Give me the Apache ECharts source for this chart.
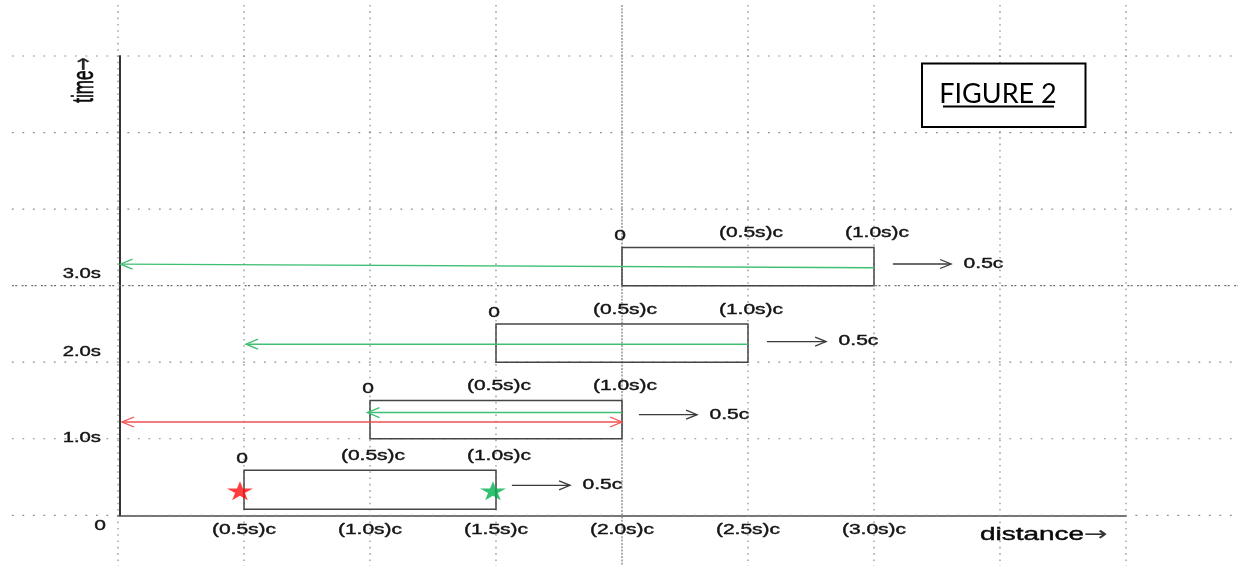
<!DOCTYPE html>
<html>
<head>
<meta charset="utf-8">
<script src="https://cdn.jsdelivr.net/npm/echarts@6/dist/echarts.min.js"></script>
<style>
  html, body { margin: 0; padding: 0; background: #fff; }
  #chart { width: 1238px; height: 566px; }
</style>
</head>
<body>
<div id="chart"></div>
<script>
// ---------- data ----------
const xTicks = [0, 0.5, 1, 1.5, 2, 2.5, 3, 3.5, 4];
const xTickLabels = ['', '(0.5s)c', '(1.0s)c', '(1.5s)c', '(2.0s)c', '(2.5s)c', '(3.0s)c', '', ''];
const yTicks = [0, 1, 2, 3, 4, 5, 6];
const yTickLabels = ['', '1.0s', '2.0s', '3.0s', '', '', ''];
const originLabel = '0';

// moving frames (distance in units of c*s, time in s)
const frameStart = [0.5, 1.0, 1.5, 2.0];
const frameEnd = [1.5, 2.0, 2.5, 3.0];
const frameBottom = [0.08, 1.0, 2.0, 3.0];
const frameTop = [0.59, 1.5, 2.5, 3.5];
const frameEdgeLabels = ['0', '(0.5s)c', '(1.0s)c'];

// green light signals
const greenStartD = [2.0, 2.5, 3.0];
const greenStartT = [1.342, 2.235, 3.233];
const greenEndD = [0.99, 0.508, 0.01];
const greenEndT = [1.342, 2.235, 3.281];

// red light signal (double headed)
const redStartD = [0.016];
const redStartT = [1.219];
const redEndD = [2.0];
const redEndT = [1.219];

// frame motion arrows
const motionStartD = [1.563, 2.067, 2.575, 3.075];
const motionEndD = [1.794, 2.298, 2.810, 3.306];
const motionT = [0.392, 1.314, 2.27, 3.283];
const motionLabels = ['0.5c', '0.5c', '0.5c', '0.5c'];

// stars
const redStar = [[0.484, 0.322]];
const greenStar = [[1.488, 0.322]];

const xAxisName = 'distance';
const yAxisName = 'time';
const axisArrow = '\u2192';
const figureTitle = 'FIGURE 2';

// ---------- layout / style ----------
const SX = 1.47;                 // horizontal stretch of the original picture
const FAM = '"Liberation Sans", Arial, "DejaVu Sans", sans-serif';
const FONT = '14.3px ' + FAM;
const TXT = '#141414';
const EXT_D = [-0.421, 4.444];   // extent of dotted grid in distance units
const EXT_T = [-0.662, 6.666];   // extent of dotted grid in time units
const yLabelLift = [0, 1, 10, 11, 0, 0, 0];
const STAR = 'path://M50,0 L61,35 L98,35 L68,57 L79,91 L50,70 L21,91 L32,57 L2,35 L39,35 Z';

function txt(x, y, str, o) {
  o = o || {};
  const fill = o.fill || TXT;
  const style = {
    text: str, font: o.font || FONT, fill: fill,
    stroke: fill, lineWidth: o.lw == null ? 0.4 : o.lw,
    align: o.align || 'center', verticalAlign: o.va || 'middle'
  };
  if (o.rich) style.rich = o.rich;
  return {
    type: 'text', x: x, y: y, scaleX: o.sx == null ? SX : o.sx, scaleY: o.sy || 1,
    rotation: o.rot || 0, style: style
  };
}

function arrow(p0, p1, color, width, both, hl, hw) {
  const dx = p1[0] - p0[0], dy = p1[1] - p0[1];
  const L = Math.hypot(dx, dy) || 1;
  const ux = dx / L, uy = dy / L, nx = -uy, ny = ux;
  const head = (tip, sx, sy) => {
    const bx = tip[0] - sx * hl, by = tip[1] - sy * hl;
    return {
      type: 'polyline',
      shape: { points: [[bx + nx * hw, by + ny * hw], [tip[0], tip[1]], [bx - nx * hw, by - ny * hw]] },
      style: { stroke: color, lineWidth: width, fill: null }
    };
  };
  const ch = [
    { type: 'line', shape: { x1: p0[0], y1: p0[1], x2: p1[0], y2: p1[1] }, style: { stroke: color, lineWidth: width } },
    head(p1, ux, uy)
  ];
  if (both) ch.push(head(p0, -ux, -uy));
  return { type: 'group', children: ch };
}

const chart = echarts.init(document.getElementById('chart'), null, { renderer: 'canvas' });

const option = {
  animation: false,
  backgroundColor: '#ffffff',
  grid: { left: 118, right: 112, top: 56, bottom: 50.7, containLabel: false },
  xAxis: {
    type: 'value', min: 0, max: 4, interval: 0.5,
    axisLine: { show: true, onZero: false, lineStyle: { color: '#4a4a4a', width: 1.6 } },
    axisTick: { show: false }, axisLabel: { show: false }, splitLine: { show: false }
  },
  yAxis: {
    type: 'value', min: 0, max: 6, interval: 1, offset: -2,
    axisLine: { show: true, onZero: false, lineStyle: { color: '#333', width: 2 } },
    axisTick: { show: false }, axisLabel: { show: false }, splitLine: { show: false }
  },
  graphic: [
    { type: 'rect', z: 50, shape: { x: 922, y: 63.5, width: 163.5, height: 63.5 },
      style: { fill: '#fff', stroke: '#000', lineWidth: 2 } },
    { type: 'text', z: 51, x: 998, y: 94,
      style: { text: figureTitle, font: '27px Lato, "Open Sans", sans-serif', fill: '#000', align: 'center', verticalAlign: 'middle' } },
    { type: 'line', z: 51, shape: { x1: 943, y1: 106.5, x2: 1054, y2: 106.5 }, style: { stroke: '#000', lineWidth: 2 } }
  ],
  series: [
    // vertical dotted grid lines
    {
      type: 'custom', z: 1, silent: true,
      data: xTicks.map(v => [v]),
      renderItem: (params, api) => {
        const d = api.value(0);
        const a = api.coord([d, EXT_T[1]]), b = api.coord([d, EXT_T[0]]);
        const strong = d === 2;
        return { type: 'line', shape: { x1: a[0], y1: a[1], x2: b[0], y2: b[1] },
          style: { stroke: strong ? '#7a7a7a' : '#8c8c8c', lineWidth: 1.2, lineDash: strong ? [2, 1.3] : [1.6, 4.7] } };
      }
    },
    // horizontal dotted grid lines
    {
      type: 'custom', z: 1, silent: true,
      data: yTicks.map(v => [0, v]),
      renderItem: (params, api) => {
        const t = api.value(1);
        const a = api.coord([EXT_D[0], t]), b = api.coord([EXT_D[1], t]);
        const strong = t === 3;
        return { type: 'line', shape: { x1: a[0], y1: a[1], x2: b[0], y2: b[1] },
          style: { stroke: strong ? '#707070' : '#8c8c8c', lineWidth: 1.2, lineDash: strong ? [2, 1.3, 2, 4.4] : [1.8, 8.7] } };
      }
    },
    // x tick labels
    {
      type: 'custom', z: 4, silent: true,
      data: xTicks.map(v => [v, 0]),
      renderItem: (params, api) => {
        const s = xTickLabels[params.dataIndex];
        if (!s) return null;
        const p = api.coord([api.value(0), 0]);
        return txt(p[0], p[1] + 14.5, s);
      }
    },
    // y tick labels + origin label + axis names
    {
      type: 'custom', z: 4, silent: true,
      data: yTicks.map(v => [0, v]),
      renderItem: (params, api) => {
        const i = params.dataIndex;
        const ch = [];
        const p = api.coord([0, api.value(1)]);
        if (yTickLabels[i]) ch.push(txt(p[0] - 17, p[1] - yLabelLift[i], yTickLabels[i], { align: 'right', font: '13.8px ' + FAM }));
        if (i === 0) {
          ch.push(txt(p[0] - 18, p[1] + 11, originLabel));
          const xe = api.coord([4, 0]);
          ch.push(txt(xe[0] - 146, p[1] + 19.5, '{a|' + xAxisName + '}{b|' + axisArrow + '}', {
            align: 'left', fill: '#0a0a0a', lw: 0.45,
            rich: {
              a: { font: '19px ' + FAM, fill: '#0a0a0a', stroke: '#0a0a0a', lineWidth: 0.45 },
              b: { font: '19px "DejaVu Sans", sans-serif', fill: '#333', stroke: '#333', lineWidth: 0.2 }
            }
          }));
          const ye = api.coord([0, 6]);
          ch.push(txt(p[0] - 33, ye[1] + 24, '{a|' + yAxisName + '}{b|' + axisArrow + '}', {
            sx: 1, sy: 1.75, rot: Math.PI / 2, fill: '#0a0a0a', lw: 0.4,
            rich: {
              a: { font: '17px ' + FAM, fill: '#0a0a0a', stroke: '#0a0a0a', lineWidth: 0.4 },
              b: { font: '16px "DejaVu Sans", sans-serif', fill: '#222', stroke: '#222', lineWidth: 0.2 }
            }
          }));
        }
        return { type: 'group', children: ch };
      }
    },
    // frames
    {
      type: 'custom', z: 3, silent: true,
      data: frameStart.map((v, i) => [v, frameBottom[i], frameEnd[i], frameTop[i]]),
      encode: { x: [0, 2], y: [1, 3] },
      renderItem: (params, api) => {
        const a = api.coord([api.value(0), api.value(3)]);
        const b = api.coord([api.value(2), api.value(1)]);
        const ch = [{ type: 'rect', shape: { x: a[0], y: a[1], width: b[0] - a[0], height: b[1] - a[1] },
          style: { fill: null, stroke: '#454545', lineWidth: 1.5 } }];
        const xs = [a[0], (a[0] + b[0]) / 2, b[0]];
        xs.forEach((x, k) => {
          ch.push(txt(x + (k === 0 ? -2 : 3), a[1] - (k === 0 ? 4 : 7), frameEdgeLabels[k], { va: 'bottom' }));
        });
        return { type: 'group', children: ch };
      }
    },
    // green signals
    {
      type: 'custom', z: 5, silent: true,
      data: greenStartD.map((v, i) => [v, greenStartT[i], greenEndD[i], greenEndT[i]]),
      encode: { x: [0, 2], y: [1, 3] },
      renderItem: (params, api) => arrow(api.coord([api.value(0), api.value(1)]), api.coord([api.value(2), api.value(3)]),
        '#3fbf73', 1.4, false, 12, 5)
    },
    // red signal
    {
      type: 'custom', z: 5, silent: true,
      data: redStartD.map((v, i) => [v, redStartT[i], redEndD[i], redEndT[i]]),
      encode: { x: [0, 2], y: [1, 3] },
      renderItem: (params, api) => arrow(api.coord([api.value(0), api.value(1)]), api.coord([api.value(2), api.value(3)]),
        '#f25050', 1.3, true, 12, 5)
    },
    // motion arrows
    {
      type: 'custom', z: 5, silent: true,
      data: motionStartD.map((v, i) => [v, motionT[i], motionEndD[i]]),
      encode: { x: [0, 2], y: 1 },
      renderItem: (params, api) => {
        const p0 = api.coord([api.value(0), api.value(1)]);
        const p1 = api.coord([api.value(2), api.value(1)]);
        const g = arrow(p0, p1, '#3a3a3a', 1.3, false, 11, 4.5);
        g.children.push(txt(p1[0] + 12.5, p1[1], motionLabels[params.dataIndex], { align: 'left' }));
        return g;
      }
    },
    // stars
    { type: 'scatter', z: 6, silent: true, symbol: STAR, symbolSize: [26, 19], data: redStar,
      itemStyle: { color: '#ff0d0d' } },
    { type: 'scatter', z: 6, silent: true, symbol: STAR, symbolSize: [26, 19], data: greenStar,
      itemStyle: { color: '#00b04f' } }
  ]
};

chart.setOption(option);
</script>
</body>
</html>
